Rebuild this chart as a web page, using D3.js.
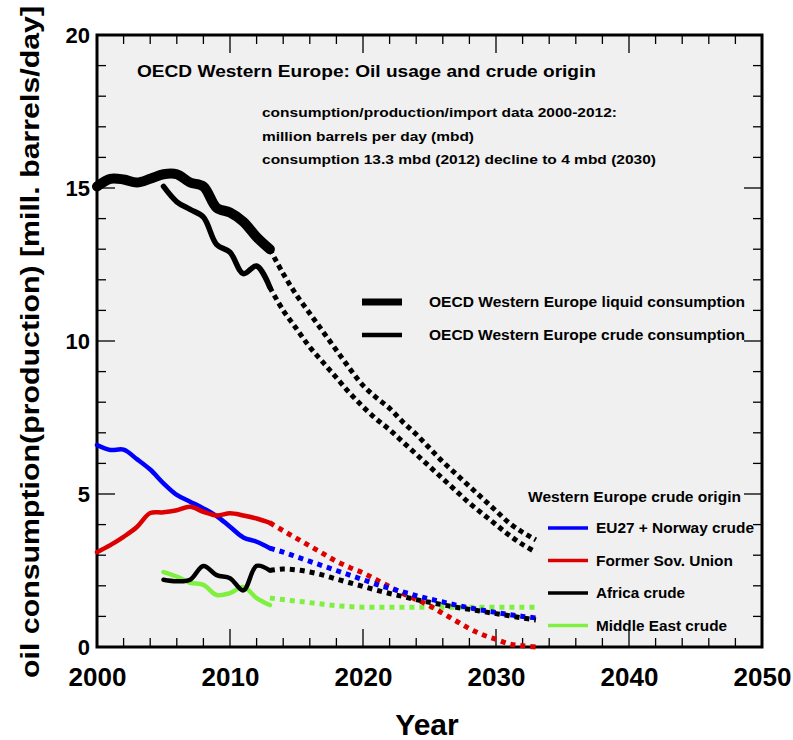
<!DOCTYPE html>
<html><head><meta charset="utf-8">
<script src="https://cdn.jsdelivr.net/npm/d3@7"></script>
<style>
body{margin:0;background:#fff;}
svg text{font-family:"Liberation Sans",Arial,Helvetica,sans-serif;font-weight:bold;fill:#000;}
</style></head>
<body><svg id="c" width="793" height="740"></svg>
<script>
// ---- data ----
const histYears = [2000,2001,2002,2003,2004,2005,2006,2007,2008,2009,2010,2011,2012,2013];
const crudeYears = [2005,2006,2007,2008,2009,2010,2011,2012,2013];
const projYears = [2013,2014,2015,2016,2017,2018,2019,2020,2021,2022,2023,2024,2025,2026,2027,2028,2029,2030,2031,2032,2033];

const liquidHist = [15.05,15.3,15.28,15.18,15.3,15.45,15.45,15.18,15.05,14.35,14.2,13.9,13.4,13.0];
const crudeHist  = [15.05,14.55,14.3,14.05,13.15,12.9,12.2,12.45,11.75];
const liquidProj = [13.0,12.2,11.5,10.9,10.3,9.7,9.1,8.55,8.15,7.8,7.35,6.95,6.5,6.05,5.65,5.25,4.85,4.45,4.05,3.75,3.5];
const crudeProj  = [11.75,11.0,10.4,9.8,9.3,8.8,8.3,7.85,7.45,7.1,6.7,6.3,5.9,5.5,5.1,4.7,4.35,4.0,3.65,3.35,3.1];

const euHist  = [6.6,6.44,6.45,6.14,5.8,5.35,4.97,4.75,4.53,4.28,3.93,3.58,3.44,3.23];
const fsuHist = [3.1,3.33,3.6,3.92,4.38,4.4,4.47,4.58,4.42,4.3,4.37,4.3,4.2,4.06];
const afrHist = [2.2,2.15,2.2,2.65,2.35,2.25,1.85,2.65,2.5];
const meHist  = [2.45,2.3,2.1,2.03,1.7,1.76,1.96,1.6,1.37];

const euProj  = [3.23,3.1,2.95,2.8,2.65,2.5,2.35,2.2,2.05,1.92,1.8,1.68,1.57,1.47,1.37,1.28,1.2,1.13,1.06,1.0,0.95];
const fsuProj = [4.06,3.8,3.55,3.3,3.05,2.8,2.6,2.42,2.2,1.97,1.75,1.55,1.35,1.1,0.85,0.6,0.4,0.25,0.1,0.04,0.0];
const afrProj = [2.5,2.55,2.52,2.45,2.35,2.22,2.1,1.98,1.86,1.75,1.65,1.55,1.46,1.38,1.3,1.23,1.16,1.09,1.02,0.95,0.88];
const meProj  = [1.6,1.55,1.5,1.45,1.4,1.35,1.32,1.3,1.3,1.3,1.3,1.3,1.3,1.3,1.3,1.3,1.3,1.3,1.3,1.3,1.3];

const xTicks = [2000,2010,2020,2030,2040,2050];
const yTicks = [0,5,10,15,20];

const title = "OECD Western Europe: Oil usage and crude origin";
const notes = ["consumption/production/import data 2000-2012:","million barrels per day (mbd)","consumption 13.3 mbd (2012) decline to 4 mbd (2030)"];
const legend1 = ["OECD Western Europe liquid consumption","OECD Western Europe crude consumption"];
const legend2Title = "Western Europe crude origin";
const legend2 = ["EU27 + Norway crude","Former Sov. Union","Africa crude","Middle East crude"];
const colors = ["#0000ff","#dd0000","#000000","#80f040"];

// ---- layout ----
const L=97, R=762, T=35, B=647;
const svg = d3.select("#c");
const x = d3.scaleLinear().domain([2000,2050]).range([L,R]);
const y = d3.scaleLinear().domain([0,20]).range([B,T]);

svg.append("rect").attr("x",L).attr("y",T).attr("width",R-L).attr("height",B-T).attr("fill","#f0f0f0");

// ticks (inward on all four sides)
const g = svg.append("g").attr("stroke","#000").attr("stroke-width",1.3);
d3.range(2000,2051,2).forEach(v=>{
  const len = (v%10===0)?18:9;
  g.append("line").attr("x1",x(v)).attr("x2",x(v)).attr("y1",B).attr("y2",B-len);
  g.append("line").attr("x1",x(v)).attr("x2",x(v)).attr("y1",T).attr("y2",T+len);
});
d3.range(0,21,1).forEach(v=>{
  const len = (v%5===0)?18:9;
  g.append("line").attr("y1",y(v)).attr("y2",y(v)).attr("x1",L).attr("x2",L+len);
  g.append("line").attr("y1",y(v)).attr("y2",y(v)).attr("x1",R).attr("x2",R-len);
});

// tick labels via axes
const xa = svg.append("g").attr("transform",`translate(0,${B})`)
  .call(d3.axisBottom(x).tickValues(xTicks).tickFormat(d3.format("d")).tickSize(0).tickPadding(20));
xa.select(".domain").remove();
xa.selectAll("text").style("font-size","26px").attr("dy","0.72em");
const ya = svg.append("g").attr("transform",`translate(${L},0)`)
  .call(d3.axisLeft(y).tickValues(yTicks).tickSize(0).tickPadding(7));
ya.select(".domain").remove();
ya.selectAll("text").style("font-size","22px");

// frame
svg.append("rect").attr("x",L).attr("y",T).attr("width",R-L).attr("height",B-T)
  .attr("fill","none").attr("stroke","#000").attr("stroke-width",3);

// helper for text with a fitted width
const txt = (xx,yy,size,len,s,anchor)=>svg.append("text").attr("x",xx).attr("y",yy)
  .attr("text-anchor",anchor||"start").style("font-size",size+"px")
  .attr("textLength",len).attr("lengthAdjust","spacingAndGlyphs").text(s);

// axis titles
svg.append("text").attr("x",427).attr("y",735).attr("text-anchor","middle").style("font-size","30px").text("Year");
svg.append("text").attr("transform","translate(39,342) rotate(-90)").attr("text-anchor","middle")
  .style("font-size","26px").attr("textLength",672).attr("lengthAdjust","spacingAndGlyphs")
  .text("oil consumption(production) [mill. barrels/day]");

// title and notes
txt(137,77,16.5,459,title);
const noteLens=[355,212,394];
notes.forEach((t,i)=>txt(262,117+i*23.5,13.5,noteLens[i],t));

// lines
const line = d3.line().x(d=>x(d[0])).y(d=>y(d[1])).curve(d3.curveCatmullRom.alpha(0.5));
const zip = (xs,ys)=>xs.map((v,i)=>[v,ys[i]]);
const plot = o => svg.append("path").attr("fill","none").attr("d",line(o.data))
  .attr("stroke",o.color).attr("stroke-width",o.w).attr("stroke-dasharray",o.dash||null)
  .attr("stroke-linejoin","round").attr("stroke-linecap",o.dash?"butt":"round");

// colored projections
plot({data:zip(projYears,meProj),color:colors[3],w:5,dash:"5,5"});
plot({data:zip(projYears,fsuProj),color:colors[1],w:5,dash:"5,5"});
plot({data:zip(projYears,euProj),color:colors[0],w:5,dash:"5,5"});
plot({data:zip(projYears,afrProj),color:colors[2],w:5,dash:"5,5"});
plot({data:zip(histYears,euHist),color:colors[0],w:4.5});
plot({data:zip(histYears,fsuHist),color:colors[1],w:4.5});
plot({data:zip(crudeYears,meHist),color:colors[3],w:4.5});
plot({data:zip(crudeYears,afrHist),color:colors[2],w:4.5});

// consumption
plot({data:zip(projYears,liquidProj),color:"#000",w:5,dash:"5,4"});
plot({data:zip(projYears,crudeProj),color:"#000",w:5,dash:"5,4"});
plot({data:zip(histYears,liquidHist),color:"#000",w:10});
plot({data:zip(crudeYears,crudeHist),color:"#000",w:5.5});

// legend 1
const l1w=[7,4.5], l1len=[316,316];
legend1.forEach((t,i)=>{
  const yy = 302+i*33;
  svg.append("line").attr("x1",362).attr("x2",402).attr("y1",yy).attr("y2",yy).attr("stroke","#000").attr("stroke-width",l1w[i]);
  txt(429,yy+5,14.5,l1len[i],t);
});
// legend 2
txt(528,502,14.5,213,legend2Title);
const l2len=[158,137,89,131];
legend2.forEach((t,i)=>{
  const yy = 528+i*32.5;
  svg.append("line").attr("x1",548).attr("x2",588).attr("y1",yy).attr("y2",yy).attr("stroke",colors[i]).attr("stroke-width",3.5);
  txt(596,yy+5,14.5,l2len[i],t);
});
</script></body></html>
